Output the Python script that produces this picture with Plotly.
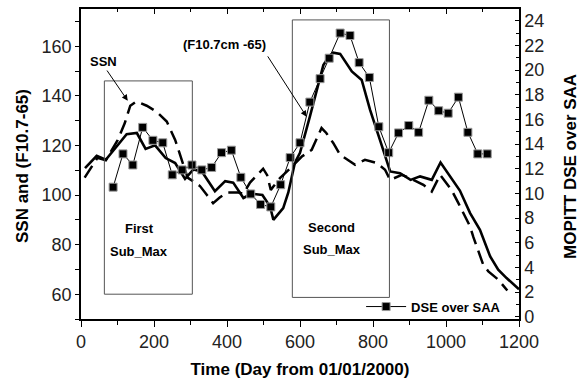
import plotly.graph_objects as go

# ---- data ----
f107_day = [11, 43, 68, 98, 125, 153, 177, 203, 232, 258, 285, 308, 331, 367, 395, 417, 445, 467, 497,
            518, 527, 554, 568, 586, 600, 627, 646, 664, 680, 691, 710, 742, 769, 792, 819, 847, 874,
            903, 929, 961, 985, 1038, 1066, 1093, 1121, 1143, 1166, 1200]
f107_val = [110.8, 115.8, 114.2, 119.6, 124.5, 125.0, 118.6, 120.0, 114.9, 112.9, 106.5, 110.3, 109.5,
            101.5, 105.6, 105.0, 98.8, 100.5, 100.0, 95.4, 90.0, 94.7, 101.0, 113.0, 117.0, 131.6, 142.4,
            152.4, 156.0, 157.4, 156.9, 149.8, 146.4, 134.3, 122.2, 109.5, 108.8, 106.1, 107.5, 106.1,
            113.1, 101.8, 92.7, 86.0, 75.2, 69.9, 66.5, 62.0]

ssn_day = [10, 28, 45, 68, 100, 120, 135, 152, 180, 207, 235, 258, 276, 292, 308, 326, 345, 362, 380,
           400, 431, 445, 463, 499, 510, 520, 527, 545, 575, 605, 632, 659, 672, 691, 710, 732, 751, 778,
           810, 833, 847, 879, 901, 938, 961, 984, 997, 1015, 1034, 1052, 1066, 1075, 1093, 1102, 1116,
           1143, 1168]
ssn_val = [107.0, 111.0, 115.0, 114.0, 122.0, 129.0, 136.0, 137.7, 136.0, 133.6, 129.6, 122.2, 114.2,
           107.0, 105.5, 103.6, 100.0, 96.7, 99.0, 101.0, 101.0, 100.5, 105.0, 110.6, 108.0, 102.0,
           103.4, 106.8, 111.0, 115.5, 118.2, 127.0, 125.0, 121.0, 116.2, 114.2, 112.2, 114.2, 112.9,
           110.2, 106.1, 108.1, 106.8, 104.1, 101.4, 108.1, 105.5, 102.1, 96.7, 91.4, 87.3, 83.0, 75.9,
           71.9, 69.2, 65.9, 61.5]

dse_day = [88, 115, 142, 169, 197, 224, 250, 277, 304, 331, 358, 385, 412, 438, 465, 492, 520, 547, 573,
           600, 627, 655, 680, 710, 737, 762, 790, 816, 843, 870, 898, 925, 953, 980, 1006, 1034, 1060,
           1087, 1113]
dse_val = [10.5, 13.2, 12.3, 15.35, 14.3, 14.1, 11.5, 11.9, 12.3, 11.9, 12.1, 13.3, 13.5, 11.3, 9.95,
           9.1, 8.9, 10.7, 12.9, 14.1, 17.4, 19.3, 20.96, 23.0, 22.8, 20.6, 19.4, 15.4, 13.3, 14.9, 15.5,
           14.95, 17.55, 16.7, 16.5, 17.8, 14.95, 13.2, 13.2]

x_ticks = [0, 200, 400, 600, 800, 1000, 1200]
left_ticks = [60, 80, 100, 120, 140, 160]
right_ticks = list(range(0, 25, 2))

FONT = "Liberation Sans, Arial, sans-serif"

fig = go.Figure()
fig.add_trace(go.Scatter(x=ssn_day, y=ssn_val, mode="lines", showlegend=False,
                         line=dict(color="black", width=2.5, dash="14px,7px")))
fig.add_trace(go.Scatter(x=f107_day, y=f107_val, mode="lines", showlegend=False,
                         line=dict(color="black", width=2.6)))
fig.add_trace(go.Scatter(x=dse_day, y=dse_val, mode="lines+markers", name="<b>DSE over SAA</b>",
                         yaxis="y2", line=dict(color="black", width=1),
                         marker=dict(symbol="square", size=8, color="black",
                                     line=dict(color="#999999", width=1))))
# dummy trace to draw the top axis
fig.add_trace(go.Scatter(x=[None], y=[None], xaxis="x2", yaxis="y", showlegend=False,
                         hoverinfo="skip"))

# boxes
fig.add_shape(type="rect", x0=64, x1=305, y0=60, y1=146, xref="x", yref="y",
              line=dict(color="#555555", width=1))
fig.add_shape(type="rect", x0=579, x1=845, y0=58.7, y1=170.6, xref="x", yref="y",
              line=dict(color="#555555", width=1))

txt = dict(family=FONT, size=13, color="black")
for xv, yv, t in [(160, 86.3, "First"), (160, 77.3, "Sub_Max"),
                  (687, 87, "Second"), (688, 78, "Sub_Max"),
                  (61, 153.8, "SSN"), (393, 160.8, "(F10.7cm -65)")]:
    fig.add_annotation(x=xv, y=yv, text=f"<b>{t}</b>", showarrow=False, font=txt,
                       xref="x", yref="y")

# arrows
fig.add_annotation(x=128, y=138, ax=68.5, ay=150.8, xref="x", yref="y", axref="x", ayref="y",
                   text="", showarrow=True, arrowhead=2, arrowsize=1.2, arrowwidth=1, arrowcolor="black")
fig.add_annotation(x=618, y=131.6, ax=509, ay=156.5, xref="x", yref="y", axref="x", ayref="y",
                   text="", showarrow=True, arrowhead=2, arrowsize=1.2, arrowwidth=1, arrowcolor="black")

tickfont = dict(family=FONT, size=18, color="#222222")
titlefont = dict(family=FONT, size=17, color="black")

# y-axis titles as rotated annotations for precise placement
fig.add_annotation(x=-0.1347, y=0.4935, xref="paper", yref="paper", text="<b>SSN and (F10.7-65)</b>",
                   textangle=-90, showarrow=False, font=titlefont, xanchor="center", yanchor="middle")
fig.add_annotation(x=1.1164, y=0.4935, xref="paper", yref="paper", text="<b>MOPITT DSE over SAA</b>",
                   textangle=-90, showarrow=False, font=titlefont, xanchor="center", yanchor="middle")

fig.update_layout(
    width=584, height=380,
    margin=dict(l=81, r=65, t=9, b=61, autoexpand=False),
    paper_bgcolor="white", plot_bgcolor="white",
    showlegend=True,
    legend=dict(x=0.6395, y=0.04, xanchor="left", yanchor="middle",
                bgcolor="rgba(0,0,0,0)", borderwidth=0,
                font=dict(family=FONT, size=13, color="black"),
                itemwidth=40, tracegroupgap=0),
    xaxis=dict(range=[0, 1200], tickvals=x_ticks, ticks="outside", ticklen=6, tickwidth=1.2,
               tickcolor="black", showline=True, linecolor="black", linewidth=1.5,
               showgrid=False, zeroline=False, tickfont=tickfont, automargin=False,
               minor=dict(dtick=100, ticks="outside", ticklen=4, tickcolor="black", tickwidth=1.2),
               title=dict(text="<b>Time (Day from 01/01/2000)</b>", font=titlefont, standoff=12)),
    xaxis2=dict(range=[0, 1200], overlaying="x", side="top", anchor="y", tickvals=x_ticks,
                ticks="inside", ticklen=5, tickwidth=1.2, tickcolor="black", showticklabels=False,
                showline=True, linecolor="black", linewidth=1.5, showgrid=False, zeroline=False,
                automargin=False,
                minor=dict(dtick=100, ticks="inside", ticklen=3, tickcolor="black", tickwidth=1.2)),
    yaxis=dict(range=[50, 175], tickvals=left_ticks, ticks="outside", ticklen=4, tickwidth=1.2,
               tickcolor="black", showline=True, linecolor="black", linewidth=1.5,
               showgrid=False, zeroline=False, tickfont=tickfont, automargin=False,
               minor=dict(dtick=10, ticks="outside", ticklen=4, tickcolor="black", tickwidth=1.2)),
    yaxis2=dict(range=[-0.19, 24.95], overlaying="y", side="right", tickvals=right_ticks,
                ticks="inside", ticklen=4, tickwidth=1.2, tickcolor="black",
                showline=True, linecolor="black", linewidth=1.5,
                showgrid=False, zeroline=False, tickfont=tickfont, automargin=False,
                minor=dict(dtick=1, ticks="inside", ticklen=3, tickcolor="black", tickwidth=1.2)),
)

fig.write_html("out.html")
